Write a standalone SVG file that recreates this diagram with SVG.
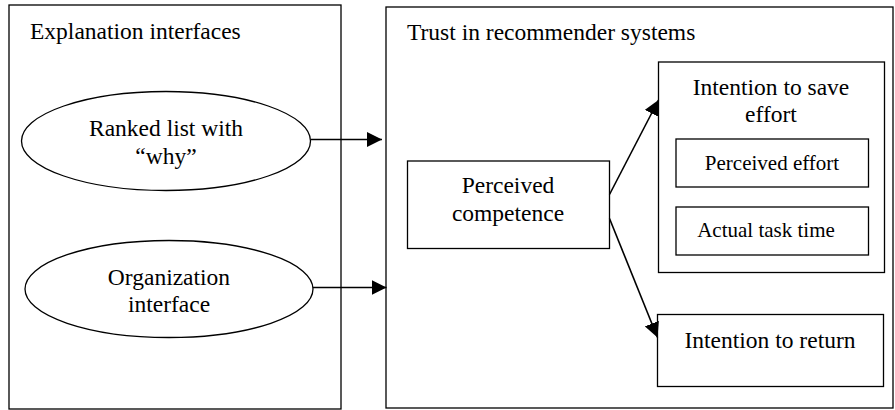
<svg xmlns="http://www.w3.org/2000/svg" width="895" height="410" viewBox="0 0 895 410">
<style>
.box{fill:#fff;stroke:#000;stroke-width:1.3}
text{font-family:'Liberation Serif','Times New Roman','DejaVu Serif',serif;fill:#000}
.t{font-size:23.5px}
.s{font-size:21px}
.c{text-anchor:middle}
.ln{fill:none;stroke:#000;stroke-width:1.6}
</style>
<defs>
<marker id="ah" viewBox="0 0 15 15" refX="15" refY="7.5" markerWidth="15" markerHeight="15" markerUnits="userSpaceOnUse" orient="auto">
<path d="M0,0 L15,7.5 L0,15 z" fill="#000"/>
</marker>
</defs>
<rect width="895" height="410" fill="#fff"/>
<g id="explanation-interfaces">
<rect class="box" x="9" y="5" width="332" height="404"/>
<text class="t" x="30" y="39" font-family="Liberation Serif, serif">Explanation interfaces</text>
</g>
<g id="trust">
<rect class="box" x="386" y="7" width="507" height="401"/>
<text class="t" x="407" y="40">Trust in recommender systems</text>
</g>
<g id="ranked-list">
<ellipse class="box" cx="166" cy="141" rx="144.5" ry="49.5"/>
<text class="t c" x="166" y="136">Ranked list with</text>
<text class="t c" x="166" y="164">“why”</text>
</g>
<g id="organization">
<ellipse class="box" cx="169" cy="289" rx="144" ry="48.5"/>
<text class="t c" x="169" y="285">Organization</text>
<text class="t c" x="169" y="312">interface</text>
</g>
<g id="perceived-competence">
<rect class="box" x="407.5" y="161" width="202" height="87.5"/>
<text class="t c" x="508" y="193">Perceived</text>
<text class="t c" x="508" y="221">competence</text>
</g>
<g id="intention-save">
<rect class="box" x="658.5" y="62" width="226" height="210.5"/>
<text class="t c" x="771" y="95">Intention to save</text>
<text class="t c" x="771" y="122">effort</text>
</g>
<g id="perceived-effort">
<rect class="box" x="676" y="139" width="192.5" height="48"/>
<text class="s c" x="772" y="170">Perceived effort</text>
</g>
<g id="actual-task-time">
<rect class="box" x="676" y="207" width="192.5" height="48"/>
<text class="s c" x="766" y="237">Actual task time</text>
</g>
<g id="intention-return">
<rect class="box" x="657.5" y="314.5" width="226" height="72"/>
<text class="t c" x="770" y="348">Intention to return</text>
</g>
<g id="connectors">
<line class="ln" x1="311" y1="139.5" x2="382" y2="139.5" marker-end="url(#ah)"/>
<line class="ln" x1="313" y1="287.5" x2="386.5" y2="287.5" marker-end="url(#ah)"/>
<line class="ln" x1="609.5" y1="194.5" x2="658.5" y2="100" marker-end="url(#ah)"/>
<line class="ln" x1="609.5" y1="218.5" x2="657.5" y2="337.5" marker-end="url(#ah)"/>
</g>
</svg>
